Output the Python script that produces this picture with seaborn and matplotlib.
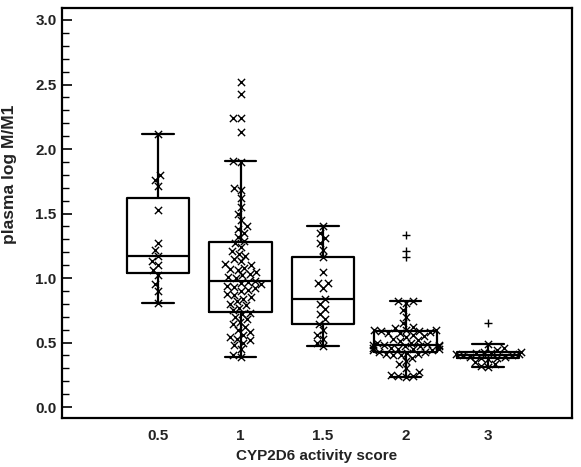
import numpy as np
import pandas as pd
import matplotlib
matplotlib.use("Agg")
import matplotlib.pyplot as plt
import seaborn as sns
from matplotlib.ticker import MultipleLocator

# plasma log M/M1 by CYP2D6 activity score

scores = ["0.5", "1", "1.5", "2", "3"]

as_05 = [0.81, 0.90, 0.95, 1.02, 1.06, 1.10, 1.13, 1.17, 1.22, 1.27,
         1.53, 1.71, 1.76, 1.80, 2.12]

as_1 = [0.39, 0.40, 0.45, 0.48, 0.50, 0.52, 0.53, 0.54, 0.56, 0.58,
        0.60, 0.62, 0.64, 0.66, 0.68, 0.70, 0.72, 0.73,
        0.75, 0.77, 0.79, 0.80, 0.82, 0.84, 0.85, 0.87, 0.88, 0.90,
        0.91, 0.92, 0.93, 0.94, 0.95, 0.96, 0.97, 0.98,
        1.00, 1.01, 1.02, 1.03, 1.05, 1.06, 1.07, 1.08, 1.10, 1.11,
        1.13, 1.15, 1.17, 1.19, 1.21, 1.24, 1.27,
        1.29, 1.32, 1.35, 1.38, 1.40, 1.45, 1.50, 1.55, 1.62, 1.68,
        1.70, 1.90, 1.91, 2.13, 2.24, 2.24, 2.43, 2.52]

as_15 = [0.47, 0.50, 0.53, 0.56, 0.60, 0.645, 0.68, 0.72, 0.76, 0.80,
         0.84, 0.92, 0.96, 0.96, 1.05, 1.16, 1.22, 1.27, 1.31, 1.35, 1.40]

as_2 = [0.23, 0.24, 0.24, 0.25, 0.27, 0.30, 0.33, 0.36, 0.38, 0.40,
        0.40, 0.41, 0.41, 0.42, 0.43,
        0.43, 0.44, 0.44, 0.45, 0.45, 0.45, 0.46, 0.46, 0.47, 0.47,
        0.47, 0.48, 0.48, 0.48,
        0.49, 0.50, 0.50, 0.51, 0.52, 0.53, 0.54, 0.55, 0.56, 0.57,
        0.57, 0.58, 0.59, 0.59,
        0.60, 0.60, 0.60, 0.61, 0.62, 0.65, 0.70, 0.75, 0.81, 0.82, 0.82]

as_3 = [0.31, 0.32, 0.33, 0.35, 0.37, 0.38, 0.38, 0.39, 0.39, 0.40,
        0.40, 0.41, 0.41, 0.42, 0.42, 0.43, 0.43, 0.44, 0.46, 0.49]

# outside values, drawn with "+"
plus_2 = [1.16, 1.21, 1.33]
plus_3 = [0.65]

groups = [as_05, as_1, as_15, as_2, as_3]
plus = {"2": plus_2, "3": plus_3}

rows = []
for s, vals in zip(scores, groups):
    for v in vals:
        rows.append((s, v, "x"))
    for v in plus.get(s, []):
        rows.append((s, v, "+"))
df = pd.DataFrame(rows, columns=["score", "value", "kind"])

sns.set_style("ticks")
plt.rcParams["font.family"] = ["Liberation Sans", "DejaVu Sans"]

fig = plt.figure(figsize=(5.81, 4.67), dpi=100)
ax = fig.add_axes([62 / 581, 1 - 418 / 467, (572 - 62) / 581, (418 - 8) / 467])

sns.boxplot(data=df, x="score", y="value", order=scores, ax=ax,
            fill=False, color="black", linewidth=1.6, width=0.76,
            showfliers=False, zorder=1)
n_before = len(ax.collections)
# swarm laid out with a small marker so the crosses overlap like the original
sns.swarmplot(data=df[df.kind == "x"], x="score", y="value", order=scores,
              ax=ax, marker="x", color="black", size=4.0, linewidth=1.0,
              zorder=3, warn_thresh=1)
swarm = ax.collections[n_before:]
sns.stripplot(data=df[df.kind == "+"], x="score", y="value", order=scores,
              ax=ax, marker="+", color="black", size=6, linewidth=1.0,
              jitter=False, zorder=3)

ax.set_xlim(-1.164, 5.018)
ax.set_ylim(-0.085, 3.093)
ax.yaxis.set_major_locator(MultipleLocator(0.5))
ax.yaxis.set_minor_locator(MultipleLocator(0.1))
ax.set_yticks(np.arange(0, 3.01, 0.5))
ax.set_yticklabels([f"{t:.1f}" for t in np.arange(0, 3.01, 0.5)])
ax.tick_params(axis="y", which="major", direction="in", length=7, width=1.2,
               labelsize=11, pad=4, color="black")
ax.tick_params(axis="y", which="minor", direction="in", length=5, width=1.0,
               color="black")
ax.tick_params(axis="x", length=0, labelsize=11, pad=8)
for lab in ax.get_xticklabels() + ax.get_yticklabels():
    lab.set_fontweight("bold")
    lab.set_color("#222222")

for sp in ax.spines.values():
    sp.set_visible(True)
    sp.set_linewidth(1.6)
    sp.set_color("black")

ax.set_xlabel("CYP2D6 activity score", fontsize=11, fontweight="bold",
              color="#222222", labelpad=4)
ax.set_ylabel("plasma log M/M1", fontsize=12.5, fontweight="bold",
              color="#222222")
ax.yaxis.set_label_coords(-0.088, 0.595)

# fix the swarm positions, then enlarge the crosses
fig.canvas.draw()
for coll in swarm:
    if "draw" in coll.__dict__:
        del coll.draw
    coll.set_sizes([5.2 ** 2])

fig.savefig("out.png", dpi=100)
